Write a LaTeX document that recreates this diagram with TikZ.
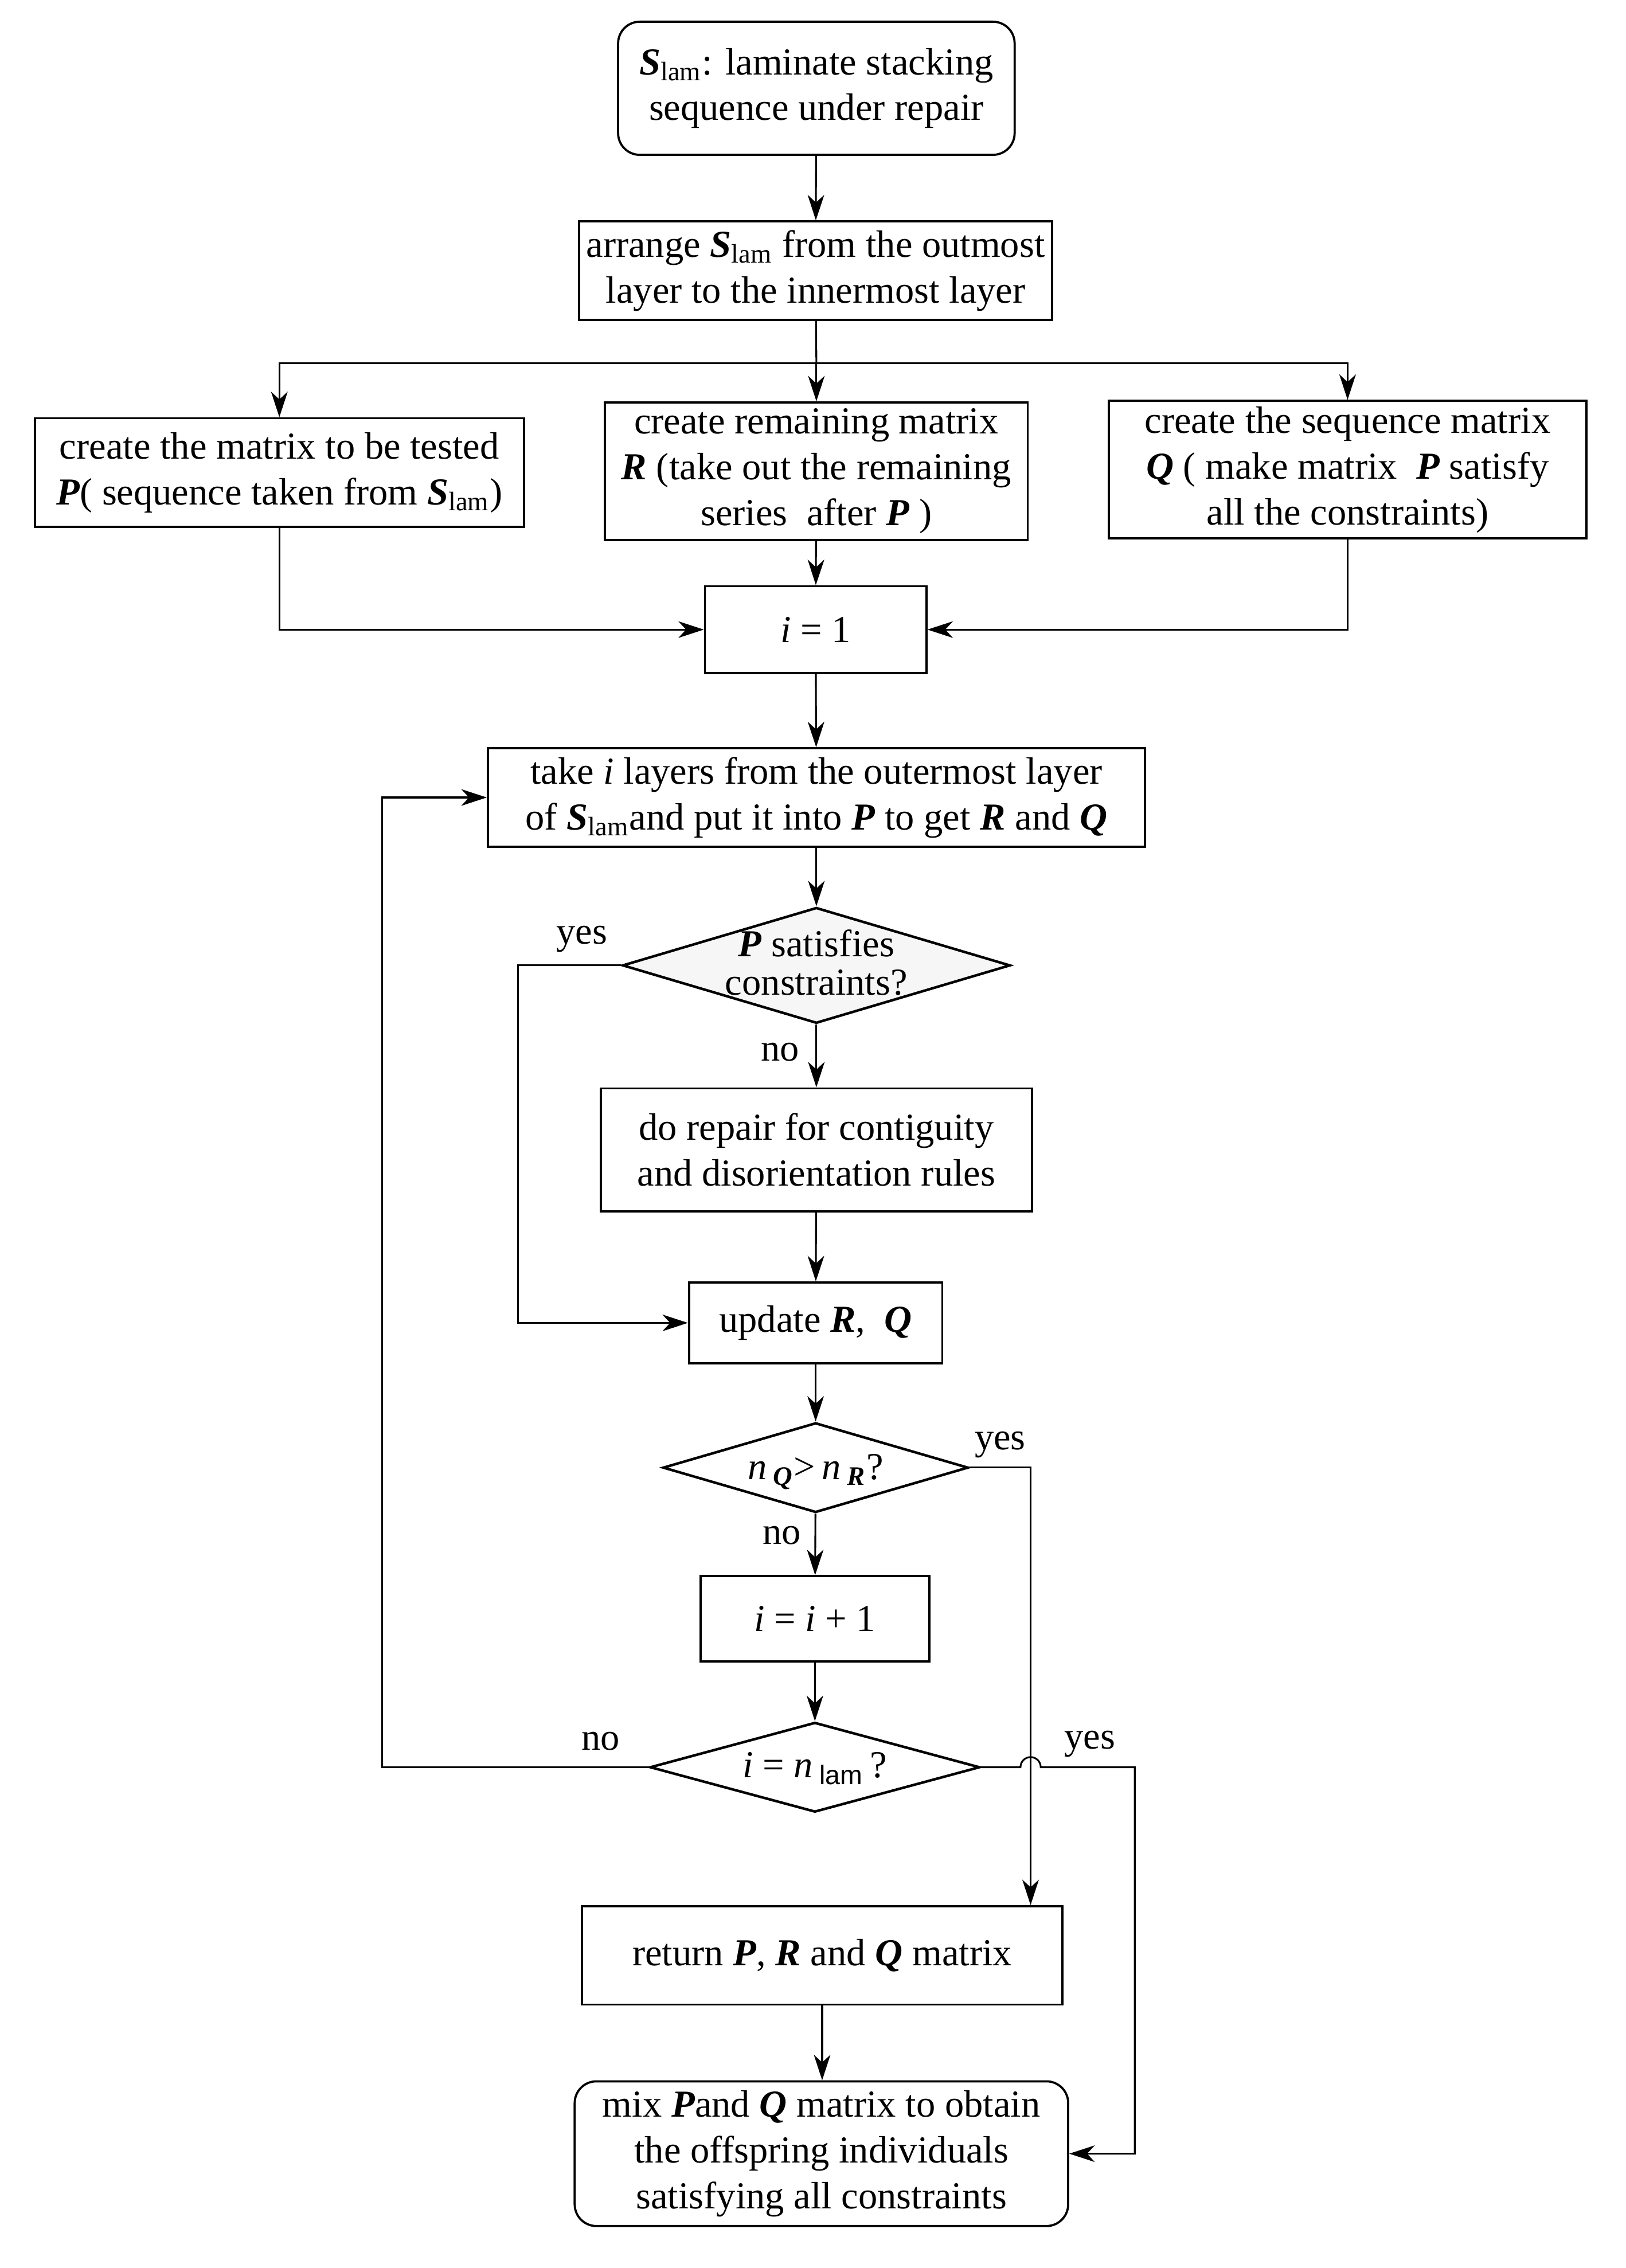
\documentclass[tikz,border=0pt]{standalone}
\usepackage{fontspec}
\setmainfont{Liberation Serif}
\newfontfamily\sansf{Liberation Sans}
\usetikzlibrary{shapes.geometric,arrows.meta}
\newcommand{\bi}[1]{\textbf{\textit{#1}}}
\newcommand{\Slam}{\bi{S}\textsubscript{lam}}
\begin{document}
\begin{tikzpicture}[x=0.02cm,y=-0.02cm,
  font=\fontsize{15}{18}\selectfont,
  box/.style={draw, line width=0.85pt, inner sep=0pt, align=center},
  rbox/.style={box, rounded corners=0.3cm},
  dec/.style={draw, diamond, line width=1pt, inner sep=0pt},
  conn/.style={line width=0.7pt},
  arr/.style={conn, -{Stealth[length=10pt,width=6.5pt,inset=3pt]}},
  lbl/.style={inner sep=0pt}]
\useasboundingbox (0,0) rectangle (1123,1567);

\node[rbox, minimum width=5.48cm, minimum height=1.84cm] (top) at (564,61)
  {\Slam: laminate stacking\\sequence under repair};
\node[box, minimum width=6.54cm, minimum height=1.36cm] (arrange) at (563.5,187)
  {arrange \Slam{} from the outmost\\layer to the innermost layer};
\node[box, minimum width=6.76cm, minimum height=1.5cm] (P) at (193,326.5)
  {create the matrix to be tested\\\bi{P}( sequence taken from \Slam)};
\node[box, minimum width=5.84cm, minimum height=1.9cm] (R) at (564,325.5)
  {create remaining matrix\\\bi{R} (take out the remaining\\series\ \ after \bi{P} )};
\node[box, minimum width=6.6cm, minimum height=1.9cm] (Q) at (931,324.5)
  {create the sequence matrix\\\bi{Q} ( make matrix\ \ \bi{P} satisfy\\all the constraints)};
\node[box, minimum width=3.06cm, minimum height=1.2cm] (i1) at (563.5,435)
  {\textit{i} = 1};
\node[box, minimum width=9.08cm, minimum height=1.36cm] (take) at (564,551)
  {take \textit{i} layers from the outermost layer\\of \Slam{}and put it into \bi{P} to get \bi{R} and \bi{Q}};
\node[dec, fill=gray!7, minimum width=5.36cm, minimum height=1.6cm] (d1) at (564,667) {};
\node[align=center, inner sep=0pt, font=\fontsize{15}{15}\selectfont] (d1t) at (564,665)
  {\bi{P} satisfies\\constraints?};
\node[box, minimum width=5.96cm, minimum height=1.7cm] (repair) at (564,794.5)
  {do repair for contiguity\\and disorientation rules};
\node[box, minimum width=3.5cm, minimum height=1.12cm] (update) at (563.5,914)
  {update \bi{R},\ \ \bi{Q}};
\node[dec, minimum width=4.22cm, minimum height=1.24cm] (d2) at (563.5,1014) {};
\node[inner sep=0pt] (d2t) at (563.5,1017)
  {\textit{n}\,\textsubscript{\bi{Q}}>\,\textit{n}\,\textsubscript{\bi{R}}?};
\node[box, minimum width=3.16cm, minimum height=1.18cm] (inc) at (563,1118.5)
  {\textit{i} = \textit{i} + 1};
\node[dec, minimum width=4.56cm, minimum height=1.24cm] (d3) at (563,1221) {};
\node[inner sep=0pt] (d3t) at (563,1222)
  {\textit{i} = \textit{n}\,\textsubscript{\sansf lam}\,?};
\node[box, minimum width=6.64cm, minimum height=1.36cm] (ret) at (568,1351)
  {return \bi{P}, \bi{R} and \bi{Q} matrix};
\node[rbox, minimum width=6.82cm, minimum height=2.0cm] (fin) at (567.5,1488)
  {mix \bi{P}and \bi{Q} matrix to obtain\\the offspring individuals\\satisfying all constraints};

% labels
\node[lbl] (yes1) at (402,649) {yes};
\node[lbl] (no1) at (539,727) {no};
\node[lbl] (yes2) at (691,998) {yes};
\node[lbl] (no2) at (540,1061) {no};
\node[lbl] (no3) at (415,1203) {no};
\node[lbl] (yes3) at (753,1205) {yes};

% connectors
\coordinate (br) at (564,251);
\coordinate (yq) at (712,1014);
\coordinate (lp) at (264,1221);
\coordinate (hp) at (784,1221);
\coordinate (hl) at (705,1221);
\coordinate (sy) at (358,667);

\draw[arr] (top) -- (arrange);
\draw[conn] (arrange) -- (br);
\draw[arr] (br) -| (P);
\draw[arr] (br) -- (R);
\draw[arr] (br) -| (Q);
\draw[arr] (P) |- (i1);
\draw[arr] (Q) |- (i1);
\draw[arr] (R) -- (i1);
\draw[arr] (i1) -- (take);
\draw[arr] (take) -- (d1);
\draw[arr] (d1) -- (repair);
\draw[arr] (d1.west) -- (sy) |- (update);
\draw[arr] (repair) -- (update);
\draw[arr] (update) -- (d2);
\draw[arr] (d2) -- (inc);
\draw[arr] (d2.east) -- (yq) -- (yq |- ret.north);
\draw[arr] (inc) -- (d3);
\draw[arr] (d3.west) -- (lp) |- (take.west);
\draw[arr] (d3.east) -- (hl) arc[start angle=180, end angle=0, radius=0.14cm] -- (hp) |- (fin.east);
\draw[arr] (ret.south) -- (ret.south |- fin.north);
\end{tikzpicture}
\end{document}
